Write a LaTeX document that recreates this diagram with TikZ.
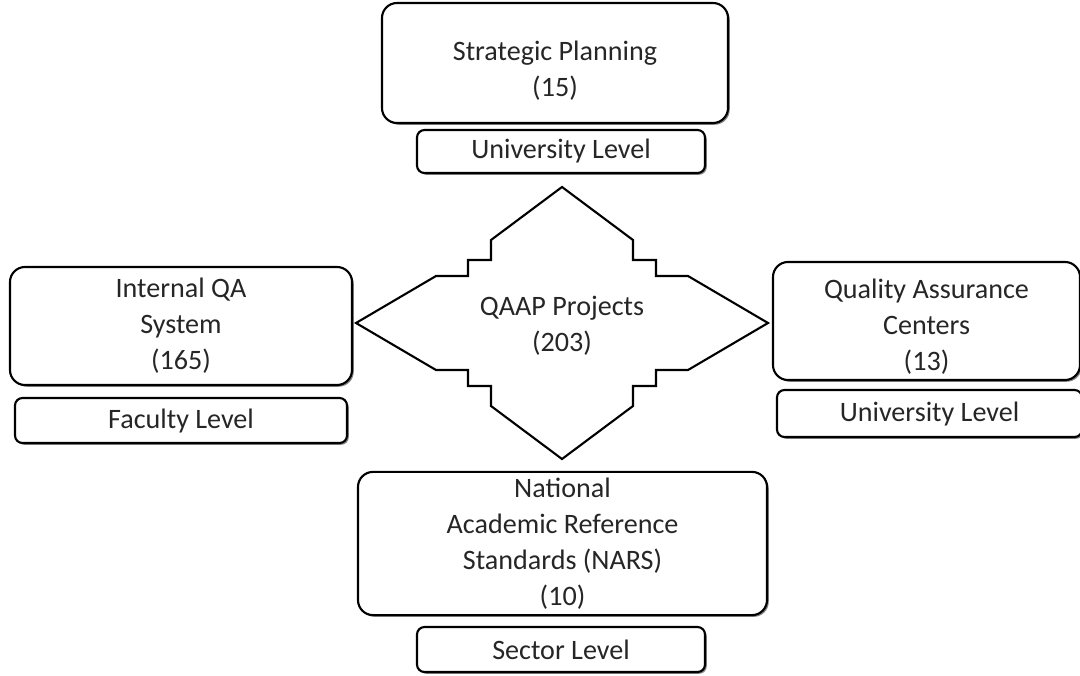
\documentclass[tikz,border=0pt]{standalone}
\usepackage{fontspec}
\setmainfont{Carlito}
\usetikzlibrary{shadows}
\tikzset{
  bigbox/.style={draw, line width=1.2pt, rounded corners=3mm, fill=white, align=center,
    drop shadow={shadow xshift=0.35mm, shadow yshift=-0.35mm, fill=black!60, opacity=0.8}},
  levelbox/.style={draw, line width=1.2pt, rounded corners=1.5mm, fill=white, align=center,
    drop shadow={shadow xshift=0.35mm, shadow yshift=-0.35mm, fill=black!60, opacity=0.8}},
  starline/.style={draw, line width=1.2pt, line join=miter}
}
\begin{document}
\begin{tikzpicture}[x=0.2mm, y=-0.2mm, font=\fontsize{16}{20.5}\selectfont, text=black!85]
\useasboundingbox (0,0) rectangle (1080,675);

\draw[starline, shift={(562,323)}] (0,-136) -- (71,-83) -- (71,-63) -- (94,-63) -- (94,-47)
  -- (126,-47) -- (206,0) -- (126,47) -- (94,47) -- (94,63) -- (71,63) -- (71,83)
  -- (0,136) -- (-71,83) -- (-71,63) -- (-94,63) -- (-94,47) -- (-126,47)
  -- (-206,0) -- (-126,-47) -- (-94,-47) -- (-94,-63) -- (-71,-63) -- (-71,-83) -- cycle;
\node[align=center] (qaap) at (562,326) {QAAP Projects\\(203)};

\node[bigbox, minimum width=69.2mm, minimum height=24mm] (plan) at (555,63) {};
\node[align=center] (plantext) at (555,71) {Strategic Planning\\(15)};
\node[levelbox, minimum width=57.6mm, minimum height=8.6mm] (planlevel) at (561,151.5) {University Level};

\node[bigbox, minimum width=68.4mm, minimum height=23.6mm] (iqa) at (181,326) {Internal QA\\System\\(165)};
\node[levelbox, minimum width=66.4mm, minimum height=9mm] (iqalevel) at (181,420.5) {Faculty Level};

\node[bigbox, minimum width=61.4mm, minimum height=23.6mm] (qac) at (926.5,321) {};
\node[align=center] (qactext) at (926.5,327) {Quality Assurance\\Centers\\(13)};
\node[levelbox, minimum width=61mm, minimum height=9.4mm] (qaclevel) at (929.5,413.5) {University Level};

\node[bigbox, minimum width=81.8mm, minimum height=28.6mm] (nars) at (562.5,543.5) {National\\Academic Reference\\Standards (NARS)\\(10)};
\node[levelbox, minimum width=57.6mm, minimum height=9mm] (narslevel) at (561,649.5) {Sector Level};
\end{tikzpicture}
\end{document}
